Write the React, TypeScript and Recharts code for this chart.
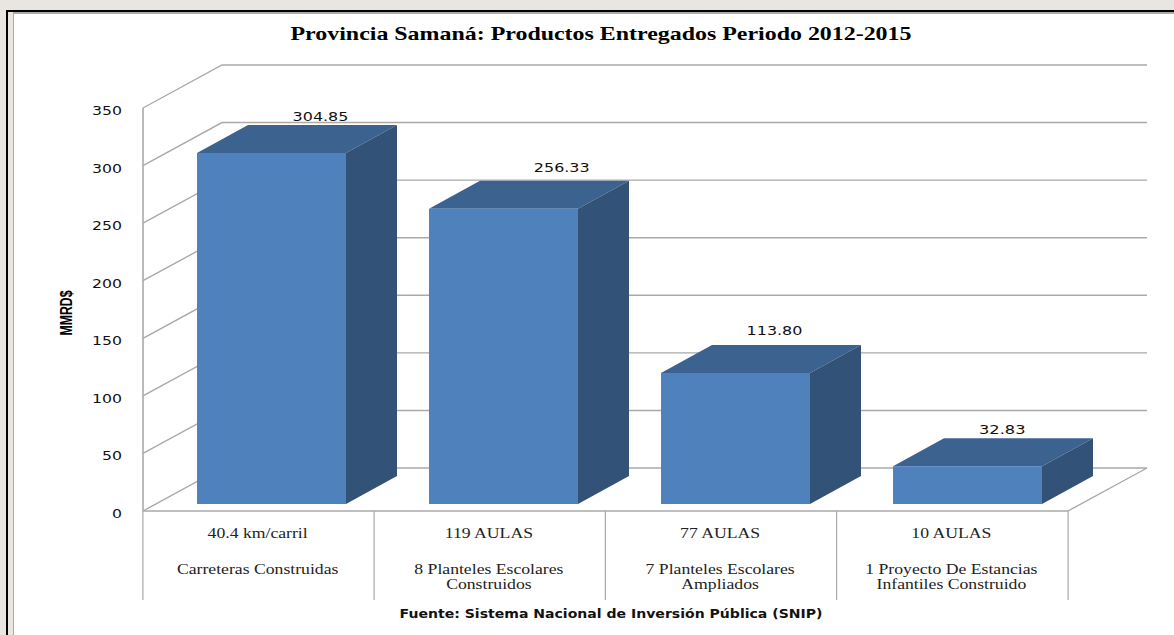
import React from 'react';
import { BarChart, Bar, XAxis, YAxis, CartesianGrid, LabelList } from 'recharts';

const measures = ['40.4 km/carril', '119 AULAS', '77 AULAS', '10 AULAS'];
const products = [
  ['Carreteras Construidas'],
  ['8 Planteles Escolares', 'Construidos'],
  ['7 Planteles Escolares', 'Ampliados'],
  ['1 Proyecto De Estancias', 'Infantiles Construido'],
];
const amounts = [304.85, 256.33, 113.8, 32.83];
const yTicks = [0, 50, 100, 150, 200, 250, 300, 350];
const rows = measures.map((m, i) => ({ measure: m, amount: amounts[i] }));

const W = 1174, H = 635;
const DEPTH_X = 79, DEPTH_Y = 43;
const BAR_DX = 51, BAR_DY = 28;
const SHIFT_X = 13, SHIFT_Y = 7;
const BAND = 231.5;
const GRID = '#a9a9a9';
const SERIF = '"Liberation Serif", serif';
const SANS = '"DejaVu Sans", sans-serif';
const labelNudge = [[49, -36], [59, -41], [40.5, -42], [37, -37]];

const Prism = (p: any) => {
  const x = p.x + SHIFT_X + (p.index ?? 0) * 0.75, y = p.y - SHIFT_Y, w = p.width, h = p.height;
  return (
    <g>
      <polygon points={`${x},${y} ${x + BAR_DX},${y - BAR_DY} ${x + w + BAR_DX},${y - BAR_DY} ${x + w},${y}`} fill="#3c628f" />
      <polygon points={`${x + w},${y} ${x + w + BAR_DX},${y - BAR_DY} ${x + w + BAR_DX},${y + h - BAR_DY} ${x + w},${y + h}`} fill="#325278" />
      <rect x={x} y={y} width={w} height={h} fill="#4f81bd" />
    </g>
  );
};

const WallLine = (p: any) => {
  const { x1, y1, x2, y2 } = p;
  const isFloor = Math.abs(y1 - (p.y + p.height)) < 1;
  return (
    <g key={p.index} fill="none" stroke={GRID} strokeWidth={1.4}>
      <polyline points={`${x1},${y1} ${x1 + DEPTH_X},${y1 - DEPTH_Y} ${x2 + DEPTH_X},${y2 - DEPTH_Y}`} />
      {isFloor ? <line x1={x2} y1={y2} x2={x2 + DEPTH_X} y2={y2 - DEPTH_Y} /> : null}
    </g>
  );
};

const YTick = (p: any) => (
  <text x={p.x} y={p.y + 7} textAnchor="end" fontFamily={SANS} fontSize={13} fill="#111"
    textLength={String(p.payload.value).length * 10} lengthAdjust="spacingAndGlyphs">
    {p.payload.value}
  </text>
);

const Stretched = ({ x, y, children }: any) => (
  <text transform={`translate(${x},${y}) scale(1.22,1)`} textAnchor="middle">{children}</text>
);

const XTick = (p: any) => {
  const i = p.payload.index ?? p.index;
  const lines = products[i];
  const left = p.x - BAND / 2, right = p.x + BAND / 2;
  return (
    <g fontFamily={SERIF} fontSize={14.5} fill="#222">
      <line x1={left} y1={511} x2={left} y2={600} stroke={GRID} strokeWidth={1.2} />
      {i === measures.length - 1 ? <line x1={right} y1={511} x2={right} y2={600} stroke={GRID} strokeWidth={1.2} /> : null}
      <Stretched x={p.x - 1} y={538}>{p.payload.value}</Stretched>
      {lines.map((t: string, k: number) => <Stretched key={k} x={p.x - 1} y={574 + k * 15}>{t}</Stretched>)}
    </g>
  );
};

const ValueLabel = (p: any) => {
  const [dx, dy] = labelNudge[p.index];
  const text = Number(p.value).toFixed(2);
  return (
    <text x={p.x + p.width / 2 + SHIFT_X + dx} y={p.y + dy + 4.5 - SHIFT_Y} textAnchor="middle"
      fontFamily={SANS} fontSize={13} fill="#111" textLength={text.length * 9.3} lengthAdjust="spacingAndGlyphs">
      {text}
    </text>
  );
};

export default function App() {
  return (
    <div style={{ position: 'absolute', left: 0, top: 0, width: W, height: H, overflow: 'hidden', background: '#e9e6e1' }}>
      <div style={{ position: 'absolute', left: 6, top: 10, width: W - 6, height: 2, background: '#000' }} />
      <div style={{ position: 'absolute', left: 6, top: 10, width: 2, height: H - 10, background: '#000' }} />
      <div style={{ position: 'absolute', left: 13, top: 12, width: W - 13, height: H - 12, background: '#fff', borderLeft: '1px solid #aaa', borderTop: '2px solid #aaa', boxSizing: 'border-box' }} />
      <div style={{ position: 'absolute', left: 0, top: 0 }}>
        <BarChart width={W} height={H} data={rows} barSize={149} margin={{ left: 0, right: 106, top: 108, bottom: 0 }}>
          <CartesianGrid vertical={false} horizontal={(s: any) => <WallLine {...s} />} />
          <XAxis dataKey="measure" interval={0} height={124} tickLine={false} axisLine={{ stroke: GRID, strokeWidth: 1.6 }} tick={<XTick />} />
          <YAxis width={143} domain={[0, 350]} ticks={yTicks} tickLine={false} tickMargin={15} axisLine={{ stroke: GRID, strokeWidth: 1.6 }} tick={<YTick />} />
          <Bar dataKey="amount" isAnimationActive={false} shape={<Prism />}>
            <LabelList dataKey="amount" content={<ValueLabel />} />
          </Bar>
        </BarChart>
      </div>
      <svg width={W} height={H} style={{ position: 'absolute', left: 0, top: 0, pointerEvents: 'none' }}>
        <text x={601} y={40} textAnchor="middle" fontFamily={SERIF} fontWeight={700} fontSize={19} fill="#000"
          textLength={621} lengthAdjust="spacingAndGlyphs">Provincia Samaná: Productos Entregados Periodo 2012-2015</text>
        <text transform="translate(72,313) rotate(-90)" textAnchor="middle" fontFamily={'"Liberation Sans Narrow", "Liberation Sans", sans-serif'} fontWeight={700} fontSize={16} fill="#000"
          textLength={45} lengthAdjust="spacingAndGlyphs">MMRD$</text>
        <text x={611} y={618} textAnchor="middle" fontFamily={SANS} fontWeight={700} fontSize={11.5} fill="#111"
          textLength={423} lengthAdjust="spacingAndGlyphs">Fuente: Sistema Nacional de Inversión Pública (SNIP)</text>
      </svg>
    </div>
  );
}
